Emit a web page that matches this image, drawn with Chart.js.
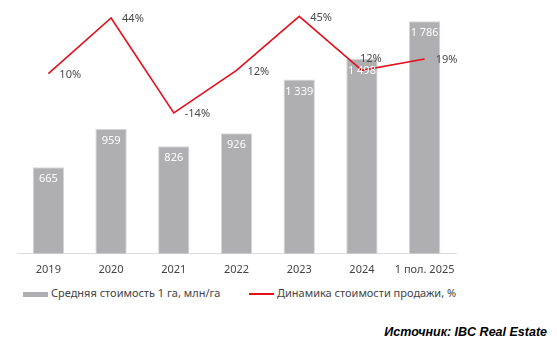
<!DOCTYPE html>
<html>
<head>
<meta charset="utf-8">
<script src="https://cdn.jsdelivr.net/npm/chart.js@4"></script>
<style>
  body { margin: 0; background: #fff; }
  #wrap { position: relative; width: 557px; height: 348px; font-family: "Noto Sans", sans-serif; }
  #chart-box { position: absolute; left: 0; top: 0; width: 557px; height: 283px; }
  .legend { position: absolute; top: 285px; font-size: 11px; color: #444; white-space: nowrap; }
  .legend span.swatch { display: inline-block; vertical-align: middle; margin-right: 3px; }
  .source { position: absolute; right: 10px; top: 325px; font-family: "Liberation Sans", Arial, sans-serif;
            font-weight: bold; font-style: italic; font-size: 12.5px; color: #000; }
</style>
</head>
<body>
<div id="wrap">
  <div id="chart-box"><canvas id="chart"></canvas></div>
  <div class="legend" style="left:23px"><span class="swatch" style="width:25px;height:5px;background:#afafb1"></span>Средняя стоимость 1 га, млн/га</div>
  <div class="legend" style="left:249px"><span class="swatch" style="width:25px;height:2px;background:#e3101e"></span>Динамика стоимости продажи, %</div>
  <div class="source">Источник: IBC Real Estate</div>
</div>
<script>
// --- DATA ---
const categories = ['2019', '2020', '2021', '2022', '2023', '2024', '1 пол. 2025'];
const avgPrice = [665, 959, 826, 926, 1339, 1498, 1786];      // млн/га
const priceChange = [10, 44, -14, 12, 45, 12, 19];            // %
const priceLabels = ['665', '959', '826', '926', '1 339', '1 498', '1 786'];

// --- LABEL PLUGIN ---
const valueLabels = {
    id: 'valueLabels',
    afterDatasetsDraw(chart) {
        const ctx = chart.ctx;
        ctx.save();
        ctx.font = '11px "Noto Sans", sans-serif';

        // bar values, white, inside the top of each bar
        ctx.fillStyle = '#ffffff';
        ctx.textAlign = 'center';
        ctx.textBaseline = 'middle';
        chart.getDatasetMeta(0).data.forEach((bar, i) => {
            ctx.fillText(priceLabels[i], bar.x, bar.y + 12);
        });

        // line values, to the right of each point
        ctx.fillStyle = '#4a4a4a';
        ctx.textAlign = 'left';
        chart.getDatasetMeta(1).data.forEach((pt, i) => {
            const txt = priceChange[i] + '%';
            if (i === 5) ctx.fillText(txt, pt.x - 2, pt.y - 12); // 2024 sits on the bar, label goes above
            else ctx.fillText(txt, pt.x + 11, pt.y + 1);
        });
        ctx.restore();
    }
};

new Chart(document.getElementById('chart'), {
    type: 'bar',
    data: {
        labels: categories,
        datasets: [
            {
                label: 'Средняя стоимость 1 га, млн/га',
                data: avgPrice,
                backgroundColor: '#afafb1',
                borderColor: '#d6d6d8',
                borderWidth: 1,
                categoryPercentage: 1,
                barPercentage: 0.5,
                yAxisID: 'y',
                order: 2
            },
            {
                label: 'Динамика стоимости продажи, %',
                data: priceChange,
                type: 'line',
                borderColor: '#e3101e',
                borderWidth: 1.6,
                pointRadius: 0,
                tension: 0,
                yAxisID: 'y2',
                order: 1
            }
        ]
    },
    options: {
        responsive: true,
        maintainAspectRatio: false,
        animation: false,
        layout: { padding: { left: 17, right: 101, top: 0, bottom: 6 } },
        plugins: { legend: { display: false }, tooltip: { enabled: false } },
        scales: {
            x: {
                grid: { display: false },
                border: { display: true, color: '#dcdcdc', width: 1 },
                ticks: { color: '#444', padding: 1, font: { family: 'Noto Sans', size: 11 }, maxRotation: 0, autoSkip: false }
            },
            y: { display: false, min: 0, max: 1950 },
            y2: { display: false, min: -100, max: 55 }
        }
    },
    plugins: [valueLabels]
});
</script>
</body>
</html>
